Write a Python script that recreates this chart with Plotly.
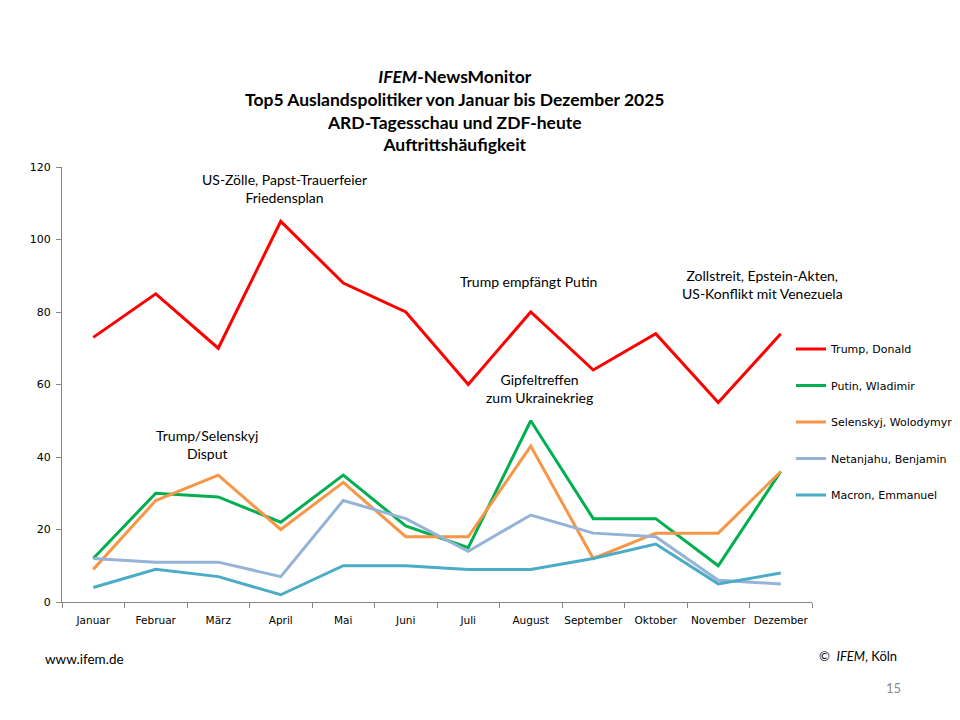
import plotly.graph_objects as go

months = ["Januar", "Februar", "März", "April", "Mai", "Juni", "Juli",
          "August", "September", "Oktober", "November", "Dezember"]

trump = [73, 85, 70, 105, 88, 80, 60, 80, 64, 74, 55, 74]
putin = [12, 30, 29, 22, 35, 21, 15, 50, 23, 23, 10, 36]
selenskyj = [9, 28, 35, 20, 33, 18, 18, 43, 12, 19, 19, 36]
netanjahu = [12, 11, 11, 7, 28, 23, 14, 24, 19, 18, 6, 5]
macron = [4, 9, 7, 2, 10, 10, 9, 9, 12, 16, 5, 8]

names = ["Trump, Donald", "Putin, Wladimir", "Selenskyj, Wolodymyr",
         "Netanjahu, Benjamin", "Macron, Emmanuel"]
series = [trump, putin, selenskyj, netanjahu, macron]
colors = ["#FF0000", "#00B050", "#F79646", "#95B3D7", "#4BACC6"]

# event notes: (x position as month index, y value, text)
notes = [
    (3.06, 114, "US-Zölle, Papst-Trauerfeier<br>Friedensplan"),
    (6.96, 88.5, "Trump empfängt Putin"),
    (7.14, 59, "Gipfeltreffen<br>zum Ukrainekrieg"),
    (10.7, 87.5, "Zollstreit, Epstein-Akten,<br>US-Konflikt mit Venezuela"),
    (1.82, 43.5, "Trump/Selenskyj<br>Disput"),
]

fig = go.Figure()
for name, vals, col in zip(names, series, colors):
    fig.add_trace(go.Scatter(x=months, y=vals, name=name, mode="lines",
                             line=dict(color=col, width=3), legendgroup=name))

for x, y, txt in notes:
    fig.add_annotation(x=x, y=y, text=txt, showarrow=False, xref="x", yref="y",
                       yanchor="middle",
                       font=dict(family="Lato", size=14, color="#000000"))

# title block
fig.add_annotation(
    text="<b><i>IFEM</i>-NewsMonitor<br>Top5 Auslandspolitiker von Januar bis Dezember 2025"
         "<br>ARD-Tagesschau und ZDF-heute<br>Auftrittshäufigkeit</b>",
    xref="paper", yref="paper", x=0.524, y=1.131, yanchor="middle", showarrow=False,
    font=dict(family="Lato", size=17.5, color="#000000"))

# footer
fig.add_annotation(text="www.ifem.de", xref="paper", yref="paper",
                   x=-0.026, y=-0.155, xanchor="left", showarrow=False,
                   font=dict(family="Lato", size=13.5, color="#000000"))
fig.add_annotation(text="©  <i>IFEM</i>, Köln", xref="paper", yref="paper",
                   x=1.116, y=-0.148, xanchor="right", showarrow=False,
                   font=dict(family="Lato", size=13, color="#000000"))
fig.add_annotation(text="15", xref="paper", yref="paper",
                   x=1.121, y=-0.22, xanchor="right", showarrow=False,
                   font=dict(family="Lato", size=13, color="#8C8C8C"))

fig.update_layout(
    width=960, height=720,
    margin=dict(l=54, r=156, t=159, b=126, autoexpand=False),
    paper_bgcolor="white", plot_bgcolor="rgba(0,0,0,0)",
    legend=dict(x=0.972, y=0.615, xanchor="left", yanchor="top",
                bgcolor="rgba(0,0,0,0)",
                font=dict(family="DejaVu Sans", size=11, color="#000000"),
                tracegroupgap=17.5, itemwidth=30),
    xaxis=dict(range=[-0.5, 11.5], showgrid=False, showline=True,
               linecolor="#868686", linewidth=1,
               ticks="outside", tickson="boundaries", ticklen=5, tickcolor="#868686",
               tickangle=0, ticklabelstandoff=8,
               tickfont=dict(family="DejaVu Sans", size=10.5, color="#000000")),
    yaxis=dict(range=[0, 120], dtick=20, showgrid=False, zeroline=False,
               showline=True, linecolor="#868686", linewidth=1,
               ticks="outside", ticklen=5, tickcolor="#868686",
               ticklabelstandoff=3,
               tickfont=dict(family="DejaVu Sans", size=11, color="#000000")),
)

fig.write_html("out.html")
